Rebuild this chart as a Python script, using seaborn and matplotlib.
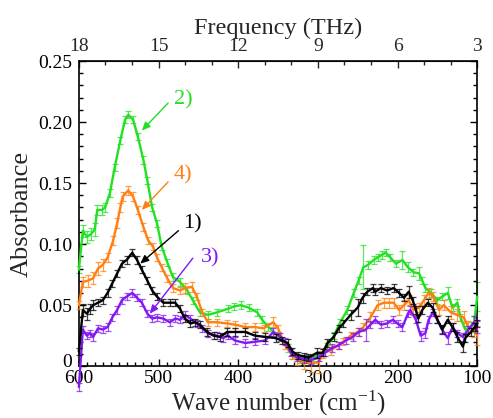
import numpy as np
import pandas as pd
import matplotlib
matplotlib.use("Agg")
import matplotlib.pyplot as plt
from matplotlib.ticker import MultipleLocator, FixedLocator, FuncFormatter
from matplotlib.transforms import ScaledTranslation
import seaborn as sns

# ---------------- data ----------------
wn_green = [600, 595, 590, 585, 580, 577, 571, 567, 561, 555,
            548, 542, 538, 532, 526, 519, 514, 508, 502, 496,
            489, 482, 473, 464, 457, 448, 438, 427, 413, 405,
            397, 387, 376, 370, 362, 350, 338, 332, 322, 314,
            306, 294, 288, 280, 272, 263, 255, 249, 243, 237,
            230, 225, 220, 215, 209, 202, 194, 187, 180, 173,
            169, 165, 158, 150, 144, 137, 131, 125, 121, 115,
            108, 104, 100]
abs_green = [0.079, 0.111, 0.106, 0.108, 0.112, 0.128, 0.128, 0.130, 0.142, 0.163,
             0.185, 0.202, 0.206, 0.202, 0.188, 0.169, 0.152, 0.130, 0.117, 0.098,
             0.085, 0.073, 0.069, 0.062, 0.054, 0.044, 0.042, 0.044, 0.047, 0.049,
             0.050, 0.048, 0.044, 0.038, 0.032, 0.025, 0.015, 0.009, 0.006, 0.006,
             0.007, 0.011, 0.016, 0.025, 0.036, 0.046, 0.060, 0.070, 0.081, 0.083,
             0.087, 0.089, 0.091, 0.093, 0.089, 0.084, 0.087, 0.081, 0.077, 0.076,
             0.070, 0.064, 0.060, 0.054, 0.057, 0.060, 0.048, 0.052, 0.040, 0.030,
             0.032, 0.035, 0.057]
err_green = [0.003, 0.005, 0.005, 0.005, 0.005, 0.004, 0.004, 0.004, 0.003, 0.003,
             0.003, 0.003, 0.003, 0.003, 0.003, 0.003, 0.003, 0.003, 0.003, 0.003,
             0.003, 0.003, 0.003, 0.003, 0.003, 0.003, 0.003, 0.003, 0.003, 0.003,
             0.003, 0.003, 0.003, 0.003, 0.003, 0.003, 0.003, 0.003, 0.003, 0.003,
             0.003, 0.003, 0.003, 0.003, 0.003, 0.003, 0.003, 0.003, 0.018, 0.003,
             0.003, 0.003, 0.003, 0.003, 0.003, 0.003, 0.007, 0.004, 0.003, 0.005,
             0.003, 0.003, 0.003, 0.003, 0.003, 0.005, 0.003, 0.003, 0.003, 0.003,
             0.004, 0.006, 0.012]

wn_orange = [600, 595, 589, 582, 576, 570, 564, 557, 552, 548,
             545, 538, 532, 526, 519, 513, 507, 502, 496, 489,
             482, 473, 467, 458, 452, 445, 438, 427, 414, 404,
             391, 379, 368, 356, 350, 341, 332, 326, 318, 309,
             299, 293, 284, 275, 268, 259, 250, 243, 234, 225,
             217, 211, 205, 198, 192, 186, 180, 173, 167, 161,
             155, 148, 142, 133, 125, 117, 111, 104, 100]
abs_orange = [0.050, 0.069, 0.070, 0.072, 0.080, 0.083, 0.089, 0.103, 0.117, 0.130,
              0.139, 0.144, 0.139, 0.128, 0.114, 0.103, 0.098, 0.089, 0.081, 0.072,
              0.064, 0.062, 0.064, 0.065, 0.057, 0.044, 0.036, 0.036, 0.035, 0.034,
              0.032, 0.032, 0.031, 0.036, 0.031, 0.017, 0.009, 0.005, 0.003, 0.0025,
              0.003, 0.011, 0.013, 0.017, 0.020, 0.025, 0.028, 0.032, 0.040, 0.050,
              0.052, 0.052, 0.052, 0.046, 0.050, 0.054, 0.046, 0.048, 0.054, 0.060,
              0.057, 0.046, 0.050, 0.044, 0.042, 0.040, 0.032, 0.030, 0.025]
err_orange = [0.003, 0.004, 0.005, 0.005, 0.005, 0.005, 0.004, 0.004, 0.004, 0.004,
              0.004, 0.004, 0.004, 0.003, 0.003, 0.003, 0.003, 0.003, 0.003, 0.003,
              0.003, 0.003, 0.004, 0.004, 0.003, 0.003, 0.003, 0.003, 0.003, 0.003,
              0.003, 0.003, 0.003, 0.004, 0.003, 0.003, 0.003, 0.004, 0.005, 0.007,
              0.009, 0.004, 0.004, 0.003, 0.003, 0.003, 0.003, 0.003, 0.004, 0.004,
              0.004, 0.004, 0.004, 0.004, 0.004, 0.004, 0.004, 0.004, 0.004, 0.004,
              0.004, 0.004, 0.004, 0.005, 0.005, 0.005, 0.005, 0.006, 0.008]

wn_black = [600, 595, 590, 586, 582, 576, 570, 564, 558, 552,
            546, 540, 533, 527, 521, 514, 508, 502, 494, 486,
            479, 473, 467, 460, 454, 448, 439, 431, 423, 414,
            404, 391, 379, 366, 353, 345, 338, 332, 325, 318,
            312, 301, 294, 288, 280, 274, 268, 259, 250, 244,
            238, 231, 228, 221, 213, 205, 198, 192, 186, 181,
            177, 174, 169, 162, 156, 150, 144, 137, 131, 125,
            118, 115, 108, 103, 100]
abs_black = [0.012, 0.046, 0.043, 0.047, 0.050, 0.052, 0.054, 0.060, 0.068, 0.076,
             0.084, 0.087, 0.093, 0.087, 0.079, 0.070, 0.062, 0.057, 0.052, 0.052,
             0.052, 0.047, 0.039, 0.035, 0.036, 0.034, 0.028, 0.025, 0.024, 0.028,
             0.028, 0.028, 0.025, 0.024, 0.023, 0.021, 0.019, 0.012, 0.009, 0.008,
             0.007, 0.011, 0.011, 0.019, 0.024, 0.031, 0.035, 0.042, 0.048, 0.056,
             0.061, 0.064, 0.061, 0.064, 0.062, 0.064, 0.060, 0.056, 0.061, 0.054,
             0.046, 0.039, 0.046, 0.052, 0.048, 0.038, 0.030, 0.038, 0.032, 0.024,
             0.016, 0.023, 0.028, 0.032, 0.035]
err_black = [0.003, 0.005, 0.005, 0.004, 0.004, 0.003, 0.003, 0.003, 0.003, 0.003,
             0.003, 0.003, 0.003, 0.003, 0.003, 0.003, 0.003, 0.003, 0.003, 0.003,
             0.003, 0.003, 0.003, 0.003, 0.003, 0.003, 0.003, 0.003, 0.003, 0.003,
             0.003, 0.003, 0.003, 0.003, 0.003, 0.003, 0.003, 0.003, 0.003, 0.003,
             0.003, 0.004, 0.003, 0.003, 0.003, 0.003, 0.003, 0.004, 0.007, 0.004,
             0.003, 0.003, 0.003, 0.003, 0.003, 0.003, 0.003, 0.003, 0.005, 0.003,
             0.003, 0.003, 0.003, 0.003, 0.004, 0.003, 0.004, 0.003, 0.003, 0.004,
             0.004, 0.003, 0.003, 0.003, 0.003]

wn_purple = [600, 595, 590, 586, 582, 576, 570, 564, 558, 552,
             546, 540, 533, 527, 521, 514, 508, 502, 494, 486,
             479, 473, 467, 460, 452, 445, 438, 427, 419, 413,
             404, 391, 379, 366, 356, 347, 341, 334, 326, 318,
             309, 299, 291, 282, 274, 265, 256, 249, 240, 234,
             228, 221, 213, 206, 200, 194, 187, 184, 177, 171,
             165, 161, 156, 150, 144, 137, 131, 125, 118, 111,
             104, 100]
abs_purple = [-0.017, 0.030, 0.025, 0.027, 0.024, 0.031, 0.030, 0.032, 0.040, 0.046,
              0.054, 0.057, 0.060, 0.056, 0.052, 0.043, 0.039, 0.040, 0.039, 0.036,
              0.039, 0.038, 0.042, 0.039, 0.035, 0.031, 0.027, 0.025, 0.023, 0.025,
              0.021, 0.019, 0.020, 0.021, 0.028, 0.024, 0.020, 0.011, 0.007, 0.006,
              0.005, 0.007, 0.011, 0.015, 0.017, 0.021, 0.024, 0.028, 0.030, 0.034,
              0.038, 0.034, 0.035, 0.038, 0.035, 0.032, 0.043, 0.046, 0.038, 0.025,
              0.027, 0.038, 0.044, 0.038, 0.030, 0.023, 0.032, 0.027, 0.024, 0.030,
              0.036, 0.032]
err_purple = [0.003, 0.003, 0.003, 0.003, 0.003, 0.003, 0.003, 0.003, 0.003, 0.003,
              0.003, 0.003, 0.003, 0.003, 0.003, 0.003, 0.003, 0.003, 0.003, 0.003,
              0.003, 0.003, 0.003, 0.003, 0.003, 0.003, 0.003, 0.003, 0.003, 0.003,
              0.003, 0.003, 0.003, 0.003, 0.003, 0.003, 0.003, 0.003, 0.003, 0.003,
              0.003, 0.003, 0.003, 0.003, 0.003, 0.003, 0.003, 0.003, 0.009, 0.003,
              0.003, 0.003, 0.003, 0.003, 0.003, 0.003, 0.003, 0.003, 0.003, 0.004,
              0.004, 0.003, 0.003, 0.003, 0.003, 0.005, 0.003, 0.003, 0.003, 0.003,
              0.005, 0.005]

series_labels = ["2)", "4)", "3)", "1)"]
series_colors = ["#22E022", "#FF8012", "#8418F2", "#000000"]
label_pos = [(469, 0.218), (469, 0.157), (435, 0.089), (458, 0.117)]
arrow_tail = [(488, 0.2156), (488, 0.151), (457, 0.0885), (475, 0.111)]
arrow_tip = [(521, 0.193), (521, 0.128), (511, 0.043), (523, 0.084)]

freq_ticks = [18, 15, 12, 9, 6, 3]
THZ_PER_CM = 0.03

# ---------------- style ----------------
sns.set_style("ticks")
plt.rcParams["font.family"] = ["Liberation Serif", "DejaVu Serif"]
plt.rcParams["mathtext.default"] = "regular"

fig = plt.figure(figsize=(4.93, 4.18), dpi=100)
ax = fig.add_axes([0.160, 0.124, 0.808, 0.730])

all_series = [
    (wn_green, abs_green, err_green),
    (wn_orange, abs_orange, err_orange),
    (wn_purple, abs_purple, err_purple),
    (wn_black, abs_black, err_black),
]

for i, ((wn, ab, er), lab, col) in enumerate(zip(all_series, series_labels, series_colors)):
    df = pd.DataFrame({"wn": wn, "abs": ab})
    ax.errorbar(wn, ab, yerr=er, fmt="none", ecolor=col, elinewidth=0.9,
                capsize=2.2, capthick=0.9, alpha=0.75, zorder=2 + i, clip_on=False)
    sns.lineplot(data=df, x="wn", y="abs", ax=ax, color=col, linewidth=1.7,
                 sort=False, legend=False, zorder=3 + i, clip_on=False)

for lab, col, lp, tail, tip in zip(series_labels, series_colors, label_pos, arrow_tail, arrow_tip):
    ax.annotate("", xy=tip, xytext=tail,
                arrowprops=dict(arrowstyle="-|>,head_length=0.5,head_width=0.22",
                                color=col, lw=1.0, shrinkA=0, shrinkB=0), zorder=10)
    ax.text(lp[0], lp[1], lab, color=col, fontsize=16, ha="center", va="center", zorder=10)

ax.set_xlim(600, 100)
ax.set_ylim(0, 0.25)
ax.xaxis.set_major_locator(MultipleLocator(100))
ax.xaxis.set_minor_locator(MultipleLocator(10))
ax.yaxis.set_major_locator(MultipleLocator(0.05))
ax.yaxis.set_minor_locator(MultipleLocator(0.01))
ax.yaxis.set_major_formatter(FuncFormatter(lambda v, p: "0" if abs(v) < 1e-9 else f"{v:.2f}"))
ax.tick_params(which="both", direction="in", right=True, top=False,
               labelsize=14, width=1.0, colors="black")
ax.tick_params(which="major", length=5)
ax.tick_params(which="minor", length=3)
ax.tick_params(axis="x", pad=3)
ax.tick_params(axis="y", pad=5)
for s in ax.spines.values():
    s.set_linewidth(1.2)
    s.set_color("black")

ax.set_xlabel("Wave number (cm$^{-1}$)", fontsize=18, labelpad=1)
ax.set_ylabel("Absorbance", fontsize=19, labelpad=4)

secax = ax.secondary_xaxis("top", functions=(lambda w: w * THZ_PER_CM,
                                              lambda f: f / THZ_PER_CM))
secax.xaxis.set_major_locator(FixedLocator(freq_ticks))
secax.xaxis.set_minor_locator(MultipleLocator(1))
secax.tick_params(which="both", direction="in", labelsize=14, pad=4, width=1.0)
secax.tick_params(which="major", length=5)
secax.tick_params(which="minor", length=3)
secax.set_xlabel("Frequency (THz)", fontsize=17.5, labelpad=3)

# nudge the "0" y tick label up slightly, as in the reference
fig.canvas.draw()
for tick in ax.yaxis.get_major_ticks():
    if tick.label1.get_text() == "0":
        tick.label1.set_transform(tick.label1.get_transform() +
                                  ScaledTranslation(0, 4 / 72, fig.dpi_scale_trans))

fig.savefig("out.png", dpi=100)
